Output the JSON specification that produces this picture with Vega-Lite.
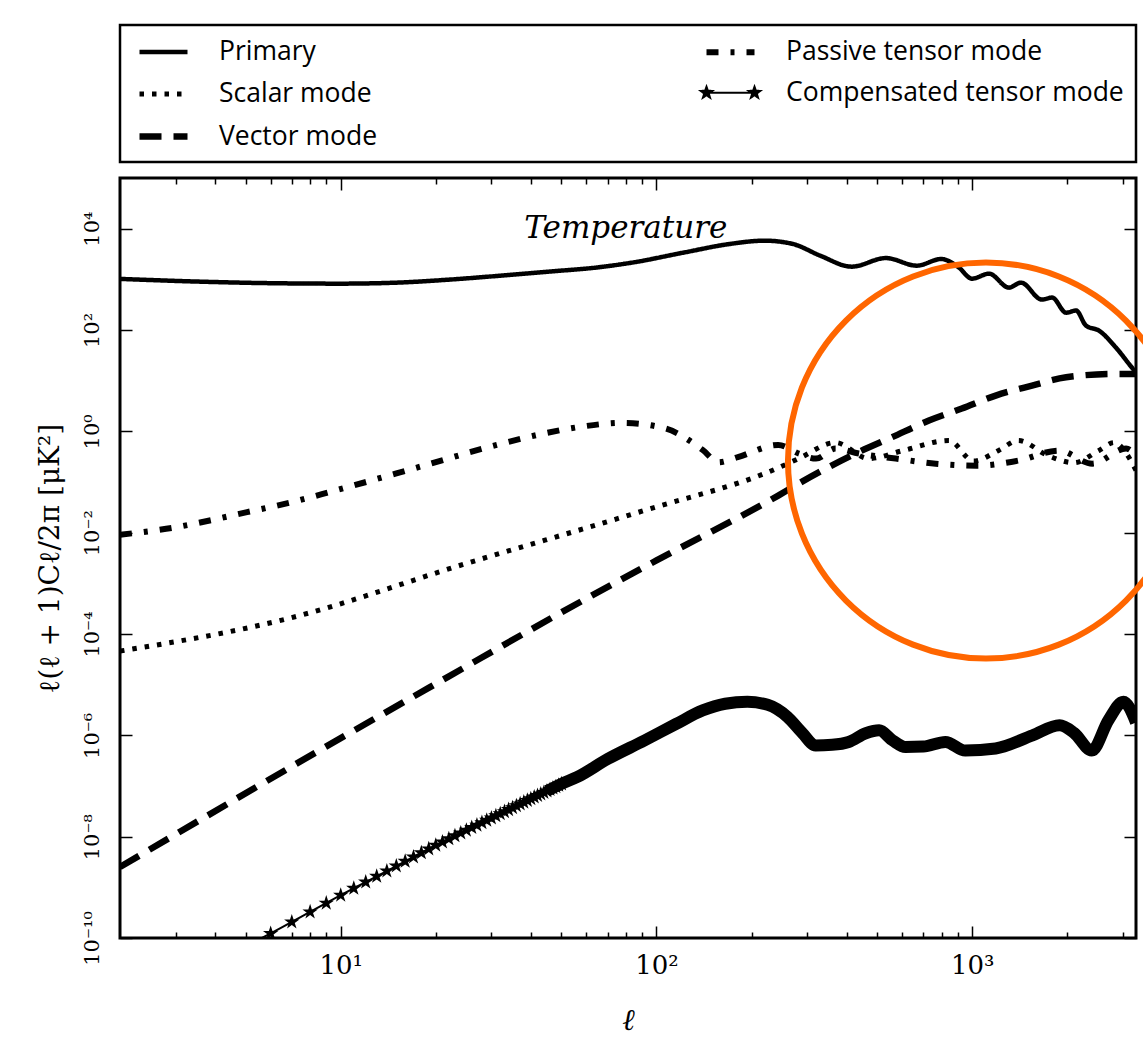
{
  "$schema": "https://vega.github.io/schema/vega-lite/v6.json",
  "width": 1016,
  "height": 760,
  "autosize": {"type": "none"},
  "padding": {"left": 120, "top": 178, "right": 7, "bottom": 113},
  "background": "white",
  "config": {
    "view": {"stroke": "black", "strokeWidth": 3},
    "axis": {"domain": false, "grid": false, "tickColor": "black", "tickWidth": 1.5, "labelColor": "black", "titleColor": "black"}
  },
  "datasets": {
    "curves": [
      {"series": "Primary", "l": 2, "v": 1020},
      {"series": "Primary", "l": 3.55, "v": 902},
      {"series": "Primary", "l": 5.9, "v": 841},
      {"series": "Primary", "l": 10, "v": 822},
      {"series": "Primary", "l": 15, "v": 860},
      {"series": "Primary", "l": 22, "v": 986},
      {"series": "Primary", "l": 32, "v": 1180},
      {"series": "Primary", "l": 45.6, "v": 1420},
      {"series": "Primary", "l": 65.6, "v": 1730},
      {"series": "Primary", "l": 84.5, "v": 2160},
      {"series": "Primary", "l": 123, "v": 3410},
      {"series": "Primary", "l": 171, "v": 5000},
      {"series": "Primary", "l": 220, "v": 5800},
      {"series": "Primary", "l": 270, "v": 5000},
      {"series": "Primary", "l": 330, "v": 2930},
      {"series": "Primary", "l": 415, "v": 1780},
      {"series": "Primary", "l": 533, "v": 2630},
      {"series": "Primary", "l": 667, "v": 1860},
      {"series": "Primary", "l": 797, "v": 2520},
      {"series": "Primary", "l": 905, "v": 1730},
      {"series": "Primary", "l": 998, "v": 1030},
      {"series": "Primary", "l": 1130, "v": 1295},
      {"series": "Primary", "l": 1306, "v": 686},
      {"series": "Primary", "l": 1426, "v": 861},
      {"series": "Primary", "l": 1662, "v": 398},
      {"series": "Primary", "l": 1790, "v": 437},
      {"series": "Primary", "l": 1982, "v": 220},
      {"series": "Primary", "l": 2132, "v": 242},
      {"series": "Primary", "l": 2292, "v": 122},
      {"series": "Primary", "l": 2520, "v": 97},
      {"series": "Primary", "l": 2851, "v": 45},
      {"series": "Primary", "l": 3206, "v": 18},
      {"series": "Primary", "l": 3300, "v": 14.5},
      {"series": "Passive tensor mode", "l": 2, "v": 0.0091},
      {"series": "Passive tensor mode", "l": 2.8, "v": 0.0119},
      {"series": "Passive tensor mode", "l": 5.05, "v": 0.0254},
      {"series": "Passive tensor mode", "l": 7, "v": 0.04},
      {"series": "Passive tensor mode", "l": 9.37, "v": 0.065},
      {"series": "Passive tensor mode", "l": 16.9, "v": 0.182},
      {"series": "Passive tensor mode", "l": 31.2, "v": 0.54},
      {"series": "Passive tensor mode", "l": 42, "v": 0.85},
      {"series": "Passive tensor mode", "l": 58, "v": 1.24},
      {"series": "Passive tensor mode", "l": 78, "v": 1.47},
      {"series": "Passive tensor mode", "l": 106, "v": 1.15},
      {"series": "Passive tensor mode", "l": 140, "v": 0.43},
      {"series": "Passive tensor mode", "l": 157, "v": 0.245},
      {"series": "Passive tensor mode", "l": 181, "v": 0.31},
      {"series": "Passive tensor mode", "l": 243, "v": 0.54},
      {"series": "Passive tensor mode", "l": 282, "v": 0.365},
      {"series": "Passive tensor mode", "l": 320, "v": 0.29},
      {"series": "Passive tensor mode", "l": 369, "v": 0.457},
      {"series": "Passive tensor mode", "l": 437, "v": 0.365},
      {"series": "Passive tensor mode", "l": 572, "v": 0.29},
      {"series": "Passive tensor mode", "l": 766, "v": 0.23},
      {"series": "Passive tensor mode", "l": 1030, "v": 0.21},
      {"series": "Passive tensor mode", "l": 1400, "v": 0.265},
      {"series": "Passive tensor mode", "l": 1880, "v": 0.417},
      {"series": "Passive tensor mode", "l": 2400, "v": 0.23},
      {"series": "Passive tensor mode", "l": 3070, "v": 0.457},
      {"series": "Passive tensor mode", "l": 3300, "v": 0.33},
      {"series": "Scalar mode", "l": 2, "v": 4.6e-5},
      {"series": "Scalar mode", "l": 6.77, "v": 2.0e-4},
      {"series": "Scalar mode", "l": 24.9, "v": 2.45e-3},
      {"series": "Scalar mode", "l": 91.6, "v": 0.0275},
      {"series": "Scalar mode", "l": 243, "v": 0.19},
      {"series": "Scalar mode", "l": 282, "v": 0.29},
      {"series": "Scalar mode", "l": 369, "v": 0.6},
      {"series": "Scalar mode", "l": 470, "v": 0.29},
      {"series": "Scalar mode", "l": 606, "v": 0.42},
      {"series": "Scalar mode", "l": 843, "v": 0.66},
      {"series": "Scalar mode", "l": 1010, "v": 0.26},
      {"series": "Scalar mode", "l": 1212, "v": 0.42},
      {"series": "Scalar mode", "l": 1400, "v": 0.66},
      {"series": "Scalar mode", "l": 1740, "v": 0.33},
      {"series": "Scalar mode", "l": 2100, "v": 0.24},
      {"series": "Scalar mode", "l": 2520, "v": 0.42},
      {"series": "Scalar mode", "l": 2810, "v": 0.6},
      {"series": "Scalar mode", "l": 3300, "v": 0.17},
      {"series": "Vector mode", "l": 2, "v": 2.52e-9},
      {"series": "Vector mode", "l": 10, "v": 8.8e-7},
      {"series": "Vector mode", "l": 21.8, "v": 1.41e-5},
      {"series": "Vector mode", "l": 50, "v": 2.67e-4},
      {"series": "Vector mode", "l": 100, "v": 2.83e-3},
      {"series": "Vector mode", "l": 243, "v": 0.054},
      {"series": "Vector mode", "l": 282, "v": 0.093},
      {"series": "Vector mode", "l": 427, "v": 0.365},
      {"series": "Vector mode", "l": 557, "v": 0.766},
      {"series": "Vector mode", "l": 729, "v": 1.63},
      {"series": "Vector mode", "l": 927, "v": 2.82},
      {"series": "Vector mode", "l": 1186, "v": 5.08},
      {"series": "Vector mode", "l": 1546, "v": 8.0},
      {"series": "Vector mode", "l": 1982, "v": 11.7},
      {"series": "Vector mode", "l": 2852, "v": 13.6},
      {"series": "Vector mode", "l": 3300, "v": 13.6}
    ],
    "compensated": [
      {"l": 5, "v": 6.9e-11},
      {"l": 6, "v": 1.23e-10},
      {"l": 8, "v": 3.27e-10},
      {"l": 10, "v": 6.98e-10},
      {"l": 12, "v": 1.27e-9},
      {"l": 15, "v": 2.64e-9},
      {"l": 20, "v": 6.78e-9},
      {"l": 25, "v": 1.34e-8},
      {"l": 30, "v": 2.33e-8},
      {"l": 35, "v": 3.73e-8},
      {"l": 40, "v": 5.61e-8},
      {"l": 45, "v": 7.98e-8},
      {"l": 50, "v": 1.10e-7},
      {"l": 56.2, "v": 1.51e-7},
      {"l": 70, "v": 3.4e-7},
      {"l": 91.6, "v": 7.9e-7},
      {"l": 115, "v": 1.66e-6},
      {"l": 140, "v": 3.1e-6},
      {"l": 165, "v": 4.2e-6},
      {"l": 194, "v": 4.6e-6},
      {"l": 225, "v": 4.0e-6},
      {"l": 260, "v": 2.3e-6},
      {"l": 290, "v": 1.1e-6},
      {"l": 319, "v": 6.3e-7},
      {"l": 360, "v": 6.5e-7},
      {"l": 406, "v": 7.4e-7},
      {"l": 460, "v": 1.1e-6},
      {"l": 507, "v": 1.26e-6},
      {"l": 560, "v": 7.9e-7},
      {"l": 614, "v": 5.9e-7},
      {"l": 700, "v": 6.0e-7},
      {"l": 822, "v": 7.4e-7},
      {"l": 950, "v": 5.0e-7},
      {"l": 1186, "v": 5.5e-7},
      {"l": 1552, "v": 1.0e-6},
      {"l": 1890, "v": 1.58e-6},
      {"l": 2100, "v": 1.12e-6},
      {"l": 2390, "v": 5.0e-7},
      {"l": 2700, "v": 2.0e-6},
      {"l": 3010, "v": 4.6e-6},
      {"l": 3300, "v": 1.8e-6}
    ],
    "stars": [
      {"l": 6, "v": 1.23e-10}, {"l": 7, "v": 2.07e-10}, {"l": 8, "v": 3.27e-10}, {"l": 9, "v": 4.88e-10},
      {"l": 10, "v": 6.98e-10}, {"l": 11, "v": 9.55e-10}, {"l": 12, "v": 1.27e-9}, {"l": 13, "v": 1.65e-9},
      {"l": 14, "v": 2.10e-9}, {"l": 15, "v": 2.64e-9}, {"l": 16, "v": 3.26e-9}, {"l": 17, "v": 3.98e-9},
      {"l": 18, "v": 4.80e-9}, {"l": 19, "v": 5.73e-9}, {"l": 20, "v": 6.78e-9}, {"l": 21, "v": 7.87e-9},
      {"l": 22, "v": 9.06e-9}, {"l": 23, "v": 1.04e-8}, {"l": 24, "v": 1.18e-8}, {"l": 25, "v": 1.34e-8},
      {"l": 26, "v": 1.51e-8}, {"l": 27, "v": 1.69e-8}, {"l": 28, "v": 1.89e-8}, {"l": 29, "v": 2.10e-8},
      {"l": 30, "v": 2.33e-8}, {"l": 31, "v": 2.58e-8}, {"l": 32, "v": 2.84e-8}, {"l": 33, "v": 3.12e-8},
      {"l": 34, "v": 3.42e-8}, {"l": 35, "v": 3.73e-8}, {"l": 36, "v": 4.07e-8}, {"l": 37, "v": 4.43e-8},
      {"l": 38, "v": 4.80e-8}, {"l": 39, "v": 5.20e-8}, {"l": 40, "v": 5.61e-8}, {"l": 41, "v": 6.04e-8},
      {"l": 42, "v": 6.49e-8}, {"l": 43, "v": 6.97e-8}, {"l": 44, "v": 7.46e-8}, {"l": 45, "v": 7.98e-8},
      {"l": 46, "v": 8.53e-8}, {"l": 47, "v": 9.10e-8}, {"l": 48, "v": 9.69e-8}, {"l": 49, "v": 1.03e-7},
      {"l": 50, "v": 1.10e-7}
    ],
    "notes": [
      {"l": 80, "v": 10000, "label": "Temperature"}
    ],
    "highlight": [
      {"l": 1105, "v": 0.2655}
    ]
  },
  "layer": [
    {
      "data": {"name": "curves"},
      "mark": {"type": "line", "interpolate": "monotone", "clip": true, "color": "black"},
      "encoding": {
        "x": {
          "field": "l", "type": "quantitative",
          "scale": {"type": "log", "domain": [2, 3300], "nice": false},
          "axis": {
            "orient": "bottom", "values": [10, 100, 1000], "ticks": false, "domain": false,
            "labelExpr": "datum.value < 50 ? '10¹' : datum.value < 500 ? '10²' : '10³'",
            "labelFont": "DejaVu Serif", "labelFontSize": 26, "labelPadding": 14, "labelFlush": false, "labelOverlap": false,
            "title": "ℓ", "titleFont": "DejaVu Serif", "titleFontStyle": "italic", "titleFontSize": 30, "titleFontWeight": "normal", "titlePadding": 27
          }
        },
        "y": {
          "field": "v", "type": "quantitative",
          "scale": {"type": "log", "domain": [1e-10, 100000], "nice": false},
          "axis": {
            "orient": "left", "values": [1e-10, 1e-8, 1e-6, 1e-4, 0.01, 1, 100, 10000], "ticks": false, "domain": false,
            "labelExpr": "datum.value > 5000 ? '10⁴' : datum.value > 50 ? '10²' : datum.value > 0.5 ? '10⁰' : datum.value > 0.005 ? '10⁻²' : datum.value > 5e-5 ? '10⁻⁴' : datum.value > 5e-7 ? '10⁻⁶' : datum.value > 5e-9 ? '10⁻⁸' : '10⁻¹⁰'",
            "labelAngle": -90, "labelAlign": "center", "labelBaseline": "alphabetic", "labelPadding": 22,
            "labelFont": "DejaVu Serif", "labelFontSize": 21, "labelFlush": false, "labelOverlap": false,
            "title": "ℓ(ℓ + 1)Cℓ/2π  [μK²]", "titleFont": "DejaVu Serif", "titleFontSize": 28, "titleFontWeight": "normal", "titlePadding": 17
          }
        },
        "strokeDash": {
          "field": "series", "type": "nominal",
          "scale": {
            "domain": ["Primary", "Scalar mode", "Vector mode", "Passive tensor mode", "Compensated tensor mode"],
            "range": [[1, 0], [4.5, 8], [22, 12], [12, 12, 4, 12], [1, 0]]
          },
          "legend": {
            "title": null, "orient": "none", "legendX": 0, "legendY": -153,
            "columns": 2, "columnPadding": 316, "rowPadding": 13.5, "padding": 12,
            "strokeColor": "black", "fillColor": "white",
            "symbolType": "stroke", "symbolSize": 576, "symbolOffset": 16, "symbolStrokeColor": "black", "symbolStrokeWidth": 5,
            "labelFont": "Open Sans", "labelFontSize": 26.5, "labelColor": "black", "labelOffset": 40, "labelLimit": 600,
            "encode": {
              "legend": {"update": {"strokeWidth": {"value": 2.5}}},
              "symbols": {
                "update": {
                  "shape": {"signal": "datum.value === 'Compensated tensor mode' ? 'M-2,0L2,0M-2,-0.5L-1.8824,-0.1618L-1.5245,-0.1545L-1.8098,0.0618L-1.7061,0.4045L-2,0.2L-2.2939,0.4045L-2.1902,0.0618L-2.4755,-0.1545L-2.1176,-0.1618ZM2,-0.5L2.1176,-0.1618L2.4755,-0.1545L2.1902,0.0618L2.2939,0.4045L2,0.2L1.7061,0.4045L1.8098,0.0618L1.5245,-0.1545L1.8824,-0.1618Z' : 'M-2,0L2,0'"},
                  "strokeWidth": {"signal": "datum.value === 'Primary' ? 5 : datum.value === 'Scalar mode' ? 4.5 : datum.value === 'Compensated tensor mode' ? 2 : 6"},
                  "fill": {"value": "black"},
                  "stroke": {"value": "black"}
                }
              }
            }
          }
        },
        "strokeWidth": {
          "field": "series", "type": "nominal",
          "scale": {
            "type": "ordinal",
            "domain": ["Primary", "Scalar mode", "Vector mode", "Passive tensor mode", "Compensated tensor mode"],
            "range": [4.5, 5, 6.5, 6, 2]
          },
          "legend": null
        }
      }
    },
    {
      "data": {"name": "compensated"},
      "mark": {"type": "line", "interpolate": "monotone", "clip": true, "color": "black", "strokeWidth": 2},
      "encoding": {
        "x": {
          "field": "l", "type": "quantitative",
          "scale": {"type": "log", "domain": [2, 3300], "nice": false},
          "axis": {"orient": "bottom", "values": [10, 100, 1000], "labels": false, "domain": false, "tickSize": -12, "title": null}
        },
        "y": {
          "field": "v", "type": "quantitative",
          "scale": {"type": "log", "domain": [1e-10, 100000], "nice": false},
          "axis": {"orient": "left", "values": [1e-10, 1e-8, 1e-6, 1e-4, 0.01, 1, 100, 10000], "labels": false, "domain": false, "tickSize": -12, "title": null}
        }
      }
    },
    {
      "data": {"name": "compensated"},
      "transform": [{"filter": "datum.l >= 45"}],
      "mark": {"type": "line", "interpolate": "monotone", "clip": true, "color": "black", "strokeWidth": 12},
      "encoding": {
        "x": {
          "field": "l", "type": "quantitative",
          "scale": {"type": "log", "domain": [2, 3300], "nice": false},
          "axis": {"orient": "bottom", "values": [3, 4, 5, 6, 7, 8, 9, 20, 30, 40, 50, 60, 70, 80, 90, 200, 300, 400, 500, 600, 700, 800, 900, 2000, 3000], "labels": false, "domain": false, "tickSize": -6, "title": null}
        },
        "y": {
          "field": "v", "type": "quantitative",
          "scale": {"type": "log", "domain": [1e-10, 100000], "nice": false},
          "axis": {"orient": "right", "values": [1e-10, 1e-8, 1e-6, 1e-4, 0.01, 1, 100, 10000], "labels": false, "domain": false, "tickSize": -12, "title": null}
        }
      }
    },
    {
      "data": {"name": "stars"},
      "mark": {"type": "point", "shape": "M0,-1L0.2245,-0.309L0.9511,-0.309L0.3633,0.118L0.5878,0.809L0,0.382L-0.5878,0.809L-0.3633,0.118L-0.9511,-0.309L-0.2245,-0.309Z", "filled": true, "color": "black", "opacity": 1, "size": 260, "clip": true},
      "encoding": {
        "x": {
          "field": "l", "type": "quantitative",
          "scale": {"type": "log", "domain": [2, 3300], "nice": false},
          "axis": {"orient": "top", "values": [10, 100, 1000], "labels": false, "domain": false, "tickSize": -12, "title": null}
        },
        "y": {
          "field": "v", "type": "quantitative",
          "scale": {"type": "log", "domain": [1e-10, 100000], "nice": false},
          "axis": null
        }
      }
    },
    {
      "data": {"name": "notes"},
      "mark": {"type": "text", "font": "DejaVu Serif", "fontStyle": "italic", "fontSize": 31, "align": "center", "baseline": "middle", "color": "black"},
      "encoding": {
        "x": {
          "field": "l", "type": "quantitative",
          "scale": {"type": "log", "domain": [2, 3300], "nice": false},
          "axis": {"orient": "top", "values": [3, 4, 5, 6, 7, 8, 9, 20, 30, 40, 50, 60, 70, 80, 90, 200, 300, 400, 500, 600, 700, 800, 900, 2000, 3000], "labels": false, "domain": false, "tickSize": -6, "title": null}
        },
        "y": {
          "field": "v", "type": "quantitative",
          "scale": {"type": "log", "domain": [1e-10, 100000], "nice": false},
          "axis": null
        },
        "text": {"field": "label"}
      }
    },
    {
      "data": {"name": "highlight"},
      "mark": {"type": "point", "shape": "circle", "filled": false, "stroke": "#ff6600", "strokeWidth": 6, "opacity": 1, "size": 156800},
      "encoding": {
        "x": {
          "field": "l", "type": "quantitative",
          "scale": {"type": "log", "domain": [2, 3300], "nice": false},
          "axis": null
        },
        "y": {
          "field": "v", "type": "quantitative",
          "scale": {"type": "log", "domain": [1e-10, 100000], "nice": false},
          "axis": null
        }
      }
    }
  ],
  "resolve": {"axis": {"x": "independent", "y": "independent"}}
}
